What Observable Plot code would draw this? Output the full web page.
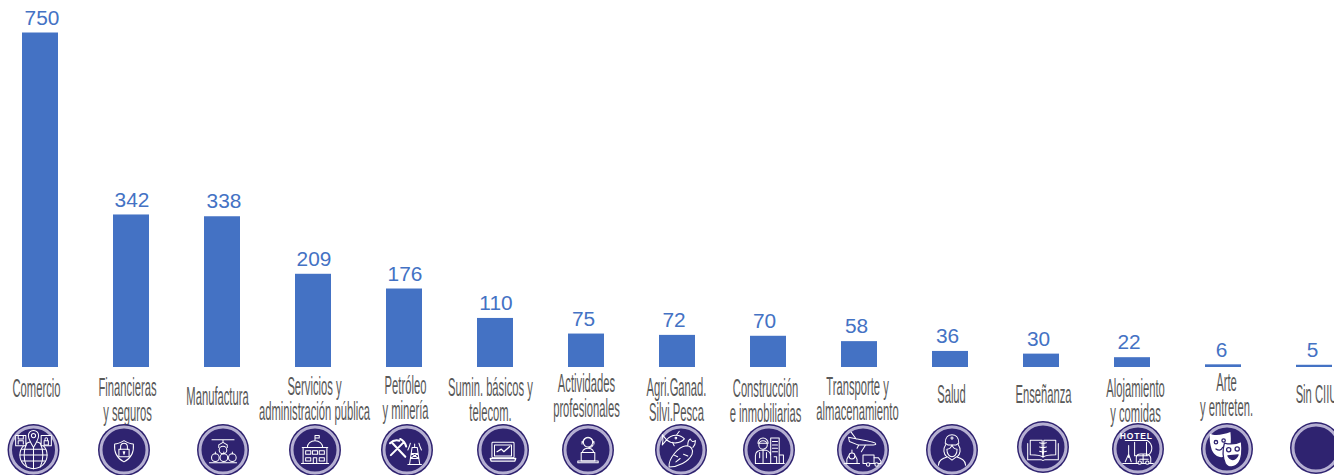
<!DOCTYPE html>
<html><head><meta charset="utf-8">
<script src="https://cdn.jsdelivr.net/npm/d3@7"></script>
<script src="https://cdn.jsdelivr.net/npm/@observablehq/plot@0.6"></script>
<style>html,body{margin:0;padding:0;background:#fff;overflow:hidden}svg{display:block}</style>
</head><body><div id="chart"></div>
<script>
const categories = ["Comercio","Financieras","Manufactura","Servicios","Petroleo","Sumin","Actividades","Agri","Construccion","Transporte","Salud","Ensenanza","Alojamiento","Arte","SinCIIU"];
const values = [750,342,338,209,176,110,75,72,70,58,36,30,22,6,5];
const labels = ["Comercio","Financieras\ny seguros","Manufactura","Servicios y\nadministración pública","Petróleo\ny minería","Sumin. básicos y\ntelecom.","Actividades\nprofesionales","Agri.Ganad.\nSilvi.Pesca","Construcción\ne inmobiliarias","Transporte y\nalmacenamiento","Salud","Enseñanza","Alojamiento\ny comidas","Arte\ny entreten.","Sin CIIU"];

// layout only: offsets of value, label and badge from each bar centre, and vertical centres
const valueDx = [1.5,0.5,1.5,0.5,0.5,0.5,-3,-3.5,-4,-3,-3,-3,-3.5,-2,-2];
const labelDx = [-4,-4,-5,1,1,-5,0,-1,-3,-2,1,2,3,3,2];
const labelY  = [389,388,397,387,386,388,384,388,389,387,395,395,389,383,395];
const badgeDx = [-6.5,-7,1,2,3,8,2,4,1,4,2,2,6,4,2];
const badgeY  = [450,450,450,450,450,450,450,450,450,450,450,447,449,449,448];
const marginTop = 32.5;
const lineStep = 24.9;
const labelFont = 25;

const glyphs = {
Comercio:`<circle cy="6" r="16"/><path d="M-16 6H16M-14 -1H14M-14 13H14M-8 -8C-12 0-12 12-8 20M8 -8C12 0 12 12 8 20M0 -10V22"/><rect x="-21" y="-17" width="12" height="12" fill="#2f2370"/><path d="M-18 -17v4h6v-4M-18 -7v-4h6v4"/><path d="M0 -3C-5 -11-6 -14-6 -17a6 6 0 0 1 12 0C6 -14 5 -11 0 -3z" fill="#2f2370"/><circle cy="-17" r="2.5"/><rect x="9" y="-17" width="12" height="12" fill="#2f2370"/><path d="M12.500 -11h5v5h-5zM13.500 -11v-2a1.500 1.500 0 0 1 3 0v2"/>`,
Financieras:`<path d="M0 -11C5 -8 9 -7 11 -7C12 3 8 10 0 14C-8 10-12 3-11 -7C-9 -7-5 -8 0 -11z"/><rect x="-6" y="-1" width="12" height="9"/><path d="M-4 -1v-3a4 4 0 0 1 8 0v3M-1 2h2l-1 3z"/>`,
Manufactura:`<path d="M-13 -12H13M0 -12v3M-5 -6l5-3 5 3M-5 -6v3M5 -6v3M-16 15H16"/><circle cx="0" cy="0" r="4.500"/><circle cx="-9" cy="9" r="4.500"/><circle cx="1" cy="9" r="4.500"/><circle cx="11" cy="9" r="4.500"/><path d="M-9 4.500v-2M1 4.500v-2M11 4.500v-2"/>`,
Servicios:`<path d="M0 -17v6M0 -17h5v3h-5M-9 -3a9 8 0 0 1 18 0M-15 -3H15M-14 -3V16H14V-3M-16 16H16"/><rect x="-11" y="1" width="6" height="4"/><rect x="-3" y="1" width="6" height="4"/><rect x="5" y="1" width="6" height="4"/><rect x="-11" y="9" width="6" height="4"/><rect x="5" y="9" width="6" height="4"/><path d="M-2 16v-7h4v7"/>`,
Petroleo:`<g stroke-width="2.400"><path d="M-17 -8L-2 8M-4 -9L-19 6M-20 -8C-17 -11-13 -12-9 -11M-8 -13C-4 -11-2 -8-1 -4"/></g><path d="M3 17L6 -3H12L15 17M1 17H17M5 4H13M4 10H14M5 4L14 10M13 4L4 10M9 -3V-7M4 -8C3 -4 2 -2 1 0M14 -8C15 -4 16 -2 17 0"/>`,
Sumin:`<rect x="-13" y="-9" width="26" height="18" rx="1"/><rect x="-10" y="-6" width="20" height="13"/><path d="M-15 10H15L14 13H-14zM-7 2L-2 -1 1 2 8 -4" stroke-width="1.500"/>`,
Actividades:`<circle cy="-9" r="5.500"/><path d="M-6 -9a6 6 0 0 1 12 0M-7 -10v3M7 -10v3M6 -6C5 -3 3 -3 1 -3M-6 6C-8 1-5 -2 0 -2S8 1 6 6"/><rect x="-8" y="3" width="16" height="10" fill="#2f2370"/><path d="M-12 13H12v2H-12z"/>`,
Agri:`<path d="M-17 -12C-11 -19-1 -19 4 -13C-1 -7-11 -7-17 -12zM-17 -12L-22 -18C-21 -14-21 -10-22 -6z"/><circle cx="-6" cy="-14" r="1"/><path d="M-5 -18L-2 -22M-10 -9L-8 -5"/><path d="M-14 20C-15 10-3 -4 6 -5C12 -5 15 0 13 5C9 14-4 20-14 20zM-6 14L-1 10M-8 6L-4 8M3 5L8 7M8 -6C8 -10 9 -12 11 -13C12 -10 14 -9 17 -11C17 -7 16 -5 14 -3"/>`,
Construccion:`<circle cx="-7" cy="-6" r="5"/><path d="M-13 -8a6 6 0 0 1 12 0zM-16 16V7C-16 2-12 0-7 0S2 2 2 7V16zM-7 0V16M-11 3V9M-3 3V9M2 6V-14H12V16M4 -10h6M4 -6h6M4 -2h6M4 2h6M2 16H18M12 6h5v10M6 8h3v8"/>`,
Transporte:`<path d="M-17 -15C-8 -13 3 -12 12 -9C16 -8 16 -6 12 -6H-6L-16 -10zM-14 -21L-8 -13M-5 -6L-7 -2M3 -6L-2 2"/><circle cx="-13" cy="7" r="3.500"/><path d="M-13 3V0M-19 16V11L-17 7M-7 16V11L-9 7M-22 16h18"/><rect x="0" y="6" width="13" height="10"/><path d="M13 9h5l3 4v3H13"/><circle cx="6" cy="17" r="2" fill="#2f2370"/><circle cx="16" cy="17" r="2" fill="#2f2370"/>`,
Salud:`<path d="M-8 -8C-8 -15-4 -18 0 -18S8 -15 8 -8L5 -6H-5z"/><path d="M-1.500 -14h3M0 -15.500v3"/><path d="M-7 -7C-11 -1-10 5-6 8M7 -7C11 -1 10 5 6 8M-6 -1C-6 5-3 8 0 8S6 5 6 -1C3 -1 1 -3 0 -6C-1 -3-3 -1-6 -1zM-16 18C-16 12-11 10-5 8L0 12 5 8C11 10 16 12 16 18"/>`,
Ensenanza:`<path d="M-15 -8H-1C-1 -2-1 6 0 12C-3 9-9 9-15 9zM15 -8H1C1 -2 1 6 0 12C3 9 9 9 15 9zM-18 -4V15H-2C-1 16 1 16 2 15H18V-4M-4 -5C-1 -4 1 -4 4 -5M-4 0C-1 1 1 1 4 0M-4 5C-1 6 1 6 4 5"/>`,
Alojamiento:`<path d="M-15 -10H11M11 -10C18 -5 18 3 11 8M-4 -8V8H10V-8M-11 -4V10M-15 15L-11 6-8 15M-18 17H18M-2 16V10C-2 7 0 6 3 6H10C13 6 15 9 15 11V16M2 12h10M6 6v10"/><circle cx="2" cy="16" r="2" fill="#2f2370"/><circle cx="11" cy="16" r="2" fill="#2f2370"/>`,
Arte:`<g fill="#fff" stroke="none"><path d="M-20 -18C-14 -15-4 -17 4 -20C5 -10 5 2-1 8C-8 12-15 8-18 1C-20 -6-21 -12-20 -18z"/><path d="M-3 -7C4 -5 11 -6 17 -9C18 0 18 10 14 16C10 22 1 23-2 17C-5 10-5 0-3 -7z" stroke="#2f2370" stroke-width="1.500"/></g><g stroke="#2f2370" stroke-width="1.500"><circle cx="-13" cy="-8" r="2"/><circle cx="-4" cy="-10" r="2"/><path d="M-13 0C-10 2-7 2-5 -2"/><circle cx="2" cy="1" r="2.500"/><circle cx="12" cy="0" r="2.500"/><path d="M1 8C4 14 10 14 13 7z" fill="#2f2370"/></g>`,
SinCIIU:``
};

const badges = (index, {x}) => {
  const g = d3.create("svg:g");
  categories.forEach((c, i) => {
    const cx = x(c) + x.bandwidth() / 2 + badgeDx[i];
    const b = g.append("g").attr("transform", `translate(${cx},${badgeY[i]})`);
    b.append("circle").attr("r", 26).attr("fill", "#2f2370");
    b.append("circle").attr("r", 23).attr("fill", "none").attr("stroke", "#b6b0d2").attr("stroke-width", 3);
    const ic = b.append("g").attr("transform", "scale(0.85)").attr("fill", "none").attr("stroke", "#fff").attr("stroke-width", 1.2)
      .attr("stroke-linejoin", "round").attr("stroke-linecap", "round").html(glyphs[c]);
    if (c === "Alojamiento") ic.append("text").text("HOTEL").attr("x", -2).attr("y", -12)
      .attr("text-anchor", "middle").attr("fill", "#fff").attr("stroke", "none")
      .attr("font-family", "Liberation Sans").attr("font-size", 10).attr("font-weight", 700).attr("letter-spacing", 1);
  });
  return g.node();
};

// the source image squeezes or stretches its text horizontally
const stretch = k => (index, scales, vals, dims, ctx, next) => {
  const g = next(index, scales, vals, dims, ctx);
  g.querySelectorAll("text").forEach(t => t.setAttribute("transform", (t.getAttribute("transform") || "") + ` scale(${k},1)`));
  return g;
};

const labelMarks = categories.map((c, i) => Plot.text([c], {
  x: d => d,
  text: () => labels[i],
  frameAnchor: "top",
  dy: labelY[i] - marginTop + (labels[i].includes("\n") ? lineStep / 2 : 0),
  dx: labelDx[i],
  lineAnchor: "middle",
  lineHeight: lineStep / labelFont,
  fontSize: labelFont,
  fill: "#595959",
  fontFamily: "Liberation Sans",
  render: stretch(0.449)
}));

const valueMarks = categories.map((c, i) => Plot.text([c], {
  x: d => d,
  y: () => values[i],
  text: () => String(values[i]),
  dy: -14.5,
  dx: valueDx[i],
  fontSize: 19.5,
  fill: "#4472c4",
  fontFamily: "Liberation Sans",
  render: stretch(1.07)
}));

const chart = Plot.plot({
  width: 1334,
  height: 475,
  marginTop,
  marginBottom: 108,
  marginLeft: -5.5,
  marginRight: -25.5,
  style: {background: "#fff", overflow: "hidden"},
  x: {domain: categories, axis: null, paddingInner: 0.604, paddingOuter: 0.302},
  y: {domain: [0, 750], axis: null},
  marks: [
    Plot.barY(categories, {x: d => d, y: (d, i) => values[i], fill: "#4472c4"}),
    ...valueMarks,
    ...labelMarks,
    badges
  ]
});
document.getElementById("chart").append(chart);
</script></body></html>
